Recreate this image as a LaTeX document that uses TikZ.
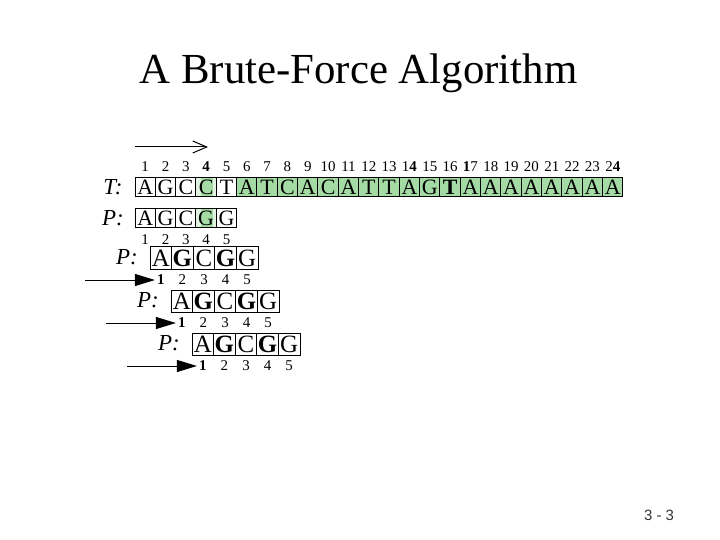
\documentclass[tikz,border=0pt]{standalone}
\usepackage{fontspec}
\setmainfont{Liberation Serif}
\newfontfamily\sansf{Liberation Sans}
\usetikzlibrary{arrows.meta}
\definecolor{gfill}{RGB}{164,218,164}
\definecolor{lgfill}{RGB}{224,243,224}
\begin{document}
\begin{tikzpicture}[x=1bp,y=-1bp,
  tc/.style={draw, line width=1bp, minimum width=20.33bp, minimum height=19bp, inner sep=0pt,
    font=\fontsize{22}{22}\selectfont, text height=14.5bp, text depth=0pt},
  wc/.style={tc},
  gc/.style={tc, fill=gfill},
  gcb/.style={gc, font=\fontsize{22}{22}\selectfont\bfseries},
  hc/.style={tc, fill=lgfill, path picture={\fill[gfill] ([xshift=5bp]path picture bounding box.south west) rectangle ([xshift=-3bp]path picture bounding box.north east);}},
  num/.style={inner sep=0pt, font=\fontsize{15}{15}\selectfont},
  lab/.style={inner sep=0pt, font=\fontsize{23}{23}\selectfont\itshape},
  pc/.style={draw, line width=1bp, minimum width=21.6bp, minimum height=22bp, inner sep=0pt,
    font=\fontsize{25}{25}\selectfont, text height=16.5bp, text depth=0pt},
  pcb/.style={pc, font=\fontsize{25}{25}\selectfont\bfseries},
  arr/.style={line width=1bp, -{Triangle[length=20bp,width=12bp]}, shorten >=2bp}
]
\useasboundingbox (0,0) rectangle (720,540);
\node[font=\fontsize{43}{43}\selectfont, anchor=base] (title) at (358.5,84) {A Brute-Force Algorithm};
% top arrow
\coordinate (as) at (135,147);
\coordinate (ae) at (208,147);
\draw[line width=1bp, -{Straight Barb[length=14bp,width=12bp]}] (as) -- (ae);
% T row
\node[lab] (tl) at (113,187) {T:};
\foreach \c/\s [count=\i] in {A/wc,G/wc,C/wc,C/hc,T/wc,A/gc,T/gc,C/gc,A/gc,C/gc,A/gc,T/gc,T/gc,A/gc,G/gc,T/gcb,A/gc,A/gc,A/gc,A/gc,A/gc,A/gc,A/gc,A/gc}
  \node[\s] (t\i) at ({135+20.33*(\i-0.5)},187) {\c};
\foreach \n [count=\i] in {1,2,3,\textbf{4},5,6,7,8,9,10,11,12,13,1\textbf{4},15,16,\textbf{1}7,18,19,20,21,22,23,2\textbf{4}}
  \node[num] (tn\i) at ({135+20.33*(\i-0.5)},167) {\n};
% P row (top)
\node[lab] (pl) at (113,218) {P:};
\foreach \c/\s [count=\i] in {A/wc,G/wc,C/wc,G/hc,G/wc}
  \node[\s] (p\i) at ({135+20.33*(\i-0.5)},218) {\c};
\foreach \n [count=\i] in {1,2,3,4,5}
  \node[num] (pn\i) at ({135+20.33*(\i-0.5)},240) {\n};
% shifted rows
\foreach \r in {2,3,4}{
  \pgfmathsetmacro\xo{150+21*(\r-2)}
  \pgfmathsetmacro\yc{258+43*(\r-2)}
  \node[lab] (ql\r) at ({\xo-23},{\yc-1}) {P:};
  \foreach \c/\s [count=\i] in {A/pc,G/pcb,C/pc,G/pcb,G/pc}
    \node[\s] (q\r-\i) at ({\xo+21.6*(\i-0.5)},\yc) {\c};
  \foreach \n [count=\i] in {\textbf{1},2,3,4,5}
    \node[num] (qn\r-\i) at ({\xo+21.6*(\i-0.5)},{\yc+22}) {\n};
  \coordinate (a\r) at ({\xo-65},{\yc+22});
  \draw[arr] (a\r) -- (qn\r-1.west);
}
\node[font=\sansf\fontsize{15}{15}\selectfont, text=black!80] (ft) at (659,515) {3 - 3};
\end{tikzpicture}
\end{document}
